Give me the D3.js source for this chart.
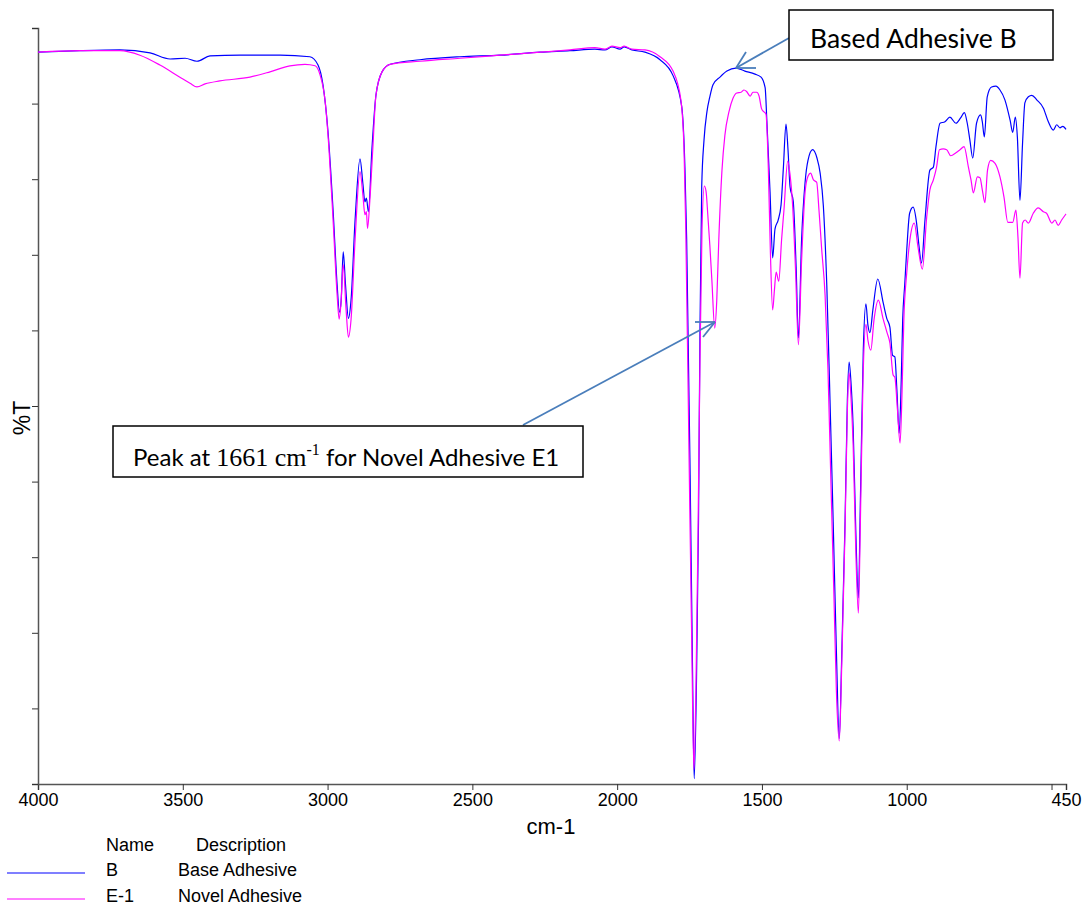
<!DOCTYPE html>
<html>
<head>
<meta charset="utf-8">
<script src="https://cdn.jsdelivr.net/npm/d3@7"></script>
<style>
  body { margin: 0; background: #fff; }
  svg { font-family: "Liberation Sans", Arial, sans-serif; }
  .note { font-family: Lato, "Open Sans", sans-serif; }
  .serif { font-family: "Liberation Serif", "Times New Roman", serif; }
</style>
</head>
<body>
<svg id="chart" width="1083" height="906"></svg>
<script>
// Base adhesive B : wavenumber (cm-1) and %T
var wnB = [4000,3855,3717,3613,3544,3492,3451,3406,3302,3164,3061,3033,3016,2999,2981,2967,2959,2953,2946,2938,
  2928,2919,2905,2888,2878,2871,2866,2859,2847,2833,2812,2784,2681,2543,2405,2266,2163,2077,2042,2018,
  1990,1976,1949,1904,1852,1807,1777,1766,1760,1748,1740,1734,1726,1719,1714,1708,1700,1690,1680,1669,
  1645,1621,1590,1559,1524,1503,1489,1483,1472,1463,1455,1444,1434,1426,1417,1410,1403,1392,1382,1374,
  1363,1351,1341,1325,1310,1299,1288,1276,1265,1254,1243,1233,1224,1213,1205,1199,1193,1185,1176,1167,
  1160,1150,1141,1134,1127,1117,1100,1081,1069,1058,1049,1041,1034,1026,1019,1014,1007,1000,990,978,
  966,958,949,937,920,908,899,885,868,851,830,814,801,791,782,772,759,745,739,732,
  722,707,692,678,661,643,634,625,618,609,600,592,580,568,551,528,511,494,482,471,461,450];
var tB = [96.8,97.0,97.1,96.7,95.9,96.0,95.6,96.3,96.4,96.4,96.2,95.1,92.5,86.5,75.9,66.0,62.4,64.0,70.4,66.0,
  61.6,64.0,74.6,82.7,79.4,77.0,77.5,75.7,83.9,91.1,94.2,95.2,95.8,96.2,96.4,96.8,97.0,97.2,97.1,97.5,
  97.2,97.5,97.1,96.8,95.8,93.7,89.6,81.5,72.1,40.9,16.0,0.7,13.8,34.9,60.1,79.0,85.2,88.9,90.9,92.5,
  93.5,94.3,94.7,94.3,93.9,93.5,92.1,87.7,78.3,69.6,73.4,74.6,76.6,81.5,87.3,83.9,79.0,77.1,68.4,59.0,
  72.1,79.6,82.5,83.9,82.8,80.8,76.5,65.9,50.8,34.7,17.7,6.0,17.7,34.7,50.8,55.8,53.4,47.1,33.6,24.6,
  37.6,57.4,63.5,60.7,59.7,62.7,66.8,63.6,61.6,60.4,56.7,56.5,52.1,46.4,53.4,61.4,66.0,70.6,75.5,76.3,
  74.2,71.3,68.9,74.6,81.2,81.6,84.3,87.4,87.6,88.2,87.4,88.1,88.8,87.4,85.2,82.8,87.4,88.5,87.6,85.6,
  90.9,92.2,92.3,91.8,90.5,87.8,86.2,88.2,85.6,77.2,84.8,90.1,90.9,91.1,90.5,89.4,87.6,86.5,87.2,86.8,87.0,86.6];

// Novel adhesive E-1
var wnE = [4000,3855,3717,3648,3579,3510,3475,3451,3423,3372,3268,3199,3130,3078,3043,3026,3009,2995,2981,2967,
  2960,2954,2946,2936,2928,2919,2905,2888,2878,2871,2866,2862,2854,2844,2833,2812,2784,2681,2543,2405,
  2266,2163,2077,2042,2018,1990,1976,1949,1904,1852,1807,1780,1769,1763,1752,1742,1735,1728,1721,1714,
  1707,1699,1693,1687,1680,1673,1663,1656,1649,1638,1628,1614,1600,1587,1572,1562,1553,1541,1531,1518,
  1510,1501,1493,1486,1478,1471,1463,1457,1451,1442,1432,1424,1411,1403,1394,1384,1374,1363,1351,1341,
  1332,1322,1311,1303,1294,1282,1272,1262,1251,1243,1233,1224,1213,1205,1199,1193,1185,1176,1167,1160,
  1151,1141,1134,1124,1113,1098,1082,1068,1058,1047,1041,1032,1023,1016,1010,1000,989,974,961,946,
  931,920,908,897,887,874,862,848,830,816,802,787,778,770,756,747,739,730,721,710,
  695,678,664,651,634,623,616,609,600,591,580,563,546,528,517,499,488,477,465,450];
var tE = [96.8,97.0,97.0,96.4,95.1,93.5,92.7,92.2,92.6,93.0,93.5,94.2,95.0,95.2,95.0,93.8,90.5,83.9,74.6,64.7,
  61.5,63.4,68.7,62.7,59.1,61.4,72.0,81.0,77.9,75.3,75.7,73.5,77.2,83.9,91.1,94.2,95.2,95.6,96.0,96.4,
  96.8,97.1,97.4,97.2,97.6,97.4,97.6,97.2,97.1,96.2,94.3,90.5,83.9,73.3,44.2,17.7,1.9,12.4,32.3,56.1,
  73.3,79.1,78.4,75.3,71.3,66.7,60.3,64.0,72.0,81.2,85.8,88.9,90.7,91.4,91.5,91.8,91.6,91.0,91.5,91.5,
  91.0,89.3,88.9,88.6,81.5,70.6,62.7,65.3,67.7,66.5,72.1,75.9,82.4,80.6,76.5,68.0,58.1,69.3,78.3,80.4,
  80.8,79.9,79.6,75.9,70.9,64.7,54.8,40.2,24.3,12.4,5.7,16.4,33.6,49.5,54.4,51.5,44.8,31.0,22.6,34.9,
  53.4,60.8,58.7,57.4,61.4,64.0,61.6,59.7,58.3,54.1,53.8,49.5,45.1,52.1,61.4,67.6,72.0,74.2,71.0,68.1,
  75.0,78.6,79.9,81.6,83.9,84.0,83.9,83.1,83.5,83.9,84.3,81.6,79.9,78.2,80.3,80.2,78.6,76.9,81.2,82.5,
  82.1,80.3,77.6,74.3,74.3,75.9,72.4,66.9,74.2,74.6,74.2,75.5,76.2,75.7,75.5,74.2,74.6,73.9,74.6,75.4];

var xTicks = [4000,3500,3000,2500,2000,1500,1000,500,450];
var xLabels = ["4000","3500","3000","2500","2000","1500","1000","","450"];
var legendNames = ["B","E-1"];
var legendDesc = ["Base Adhesive","Novel Adhesive"];
var colors = ["#0000ff","#ff00ff"];

var svg = d3.select("#chart");
// plot frame (px)
var pLeft = 38, pRight = 1066, pTop = 28, pBottom = 784;

var x = d3.scaleLinear().domain([4000,450]).range([pLeft,pRight]);
var y = d3.scaleLinear().domain([0,100]).range([pBottom,pTop]);

// Axes
var xAxis = svg.append("g")
   .attr("transform","translate(0,"+pBottom+")")
   .call(d3.axisBottom(x).tickValues(xTicks).tickSize(6).tickPadding(3)
     .tickFormat(function(d,i){ return xLabels[i]; }));
xAxis.selectAll("text").attr("font-size",18).attr("fill","#000").attr("font-family","Liberation Sans, Arial");
xAxis.select(".domain").attr("stroke","#555").attr("stroke-width",1.5);
xAxis.selectAll(".tick line").attr("stroke","#333");

var yAxis = svg.append("g")
   .attr("transform","translate("+pLeft+",0)")
   .call(d3.axisLeft(y).ticks(10).tickSize(6).tickFormat(""));
yAxis.select(".domain").attr("stroke","#555").attr("stroke-width",1.5);
yAxis.selectAll(".tick line").attr("stroke","#333");

// Axis titles
svg.append("text")
   .attr("x",551).attr("y",834)
   .attr("text-anchor","middle")
   .attr("font-size",22)
   .text("cm-1");
svg.append("text")
   .attr("transform","translate(30,418) rotate(-90)")
   .attr("text-anchor","middle")
   .attr("font-size",23)
   .text("%T");

// Spectra
var line = d3.line()
   .x(function(d){ return x(d[0]); })
   .y(function(d){ return y(d[1]); })
   .curve(d3.curveMonotoneX);

var seriesB = wnB.map(function(d,i){ return [d,tB[i]]; });
var seriesE = wnE.map(function(d,i){ return [d,tE[i]]; });

svg.append("path").datum(seriesB)
   .attr("d",line).attr("fill","none")
   .attr("stroke",colors[0]).attr("stroke-width",1.2);
svg.append("path").datum(seriesE)
   .attr("d",line).attr("fill","none")
   .attr("stroke",colors[1]).attr("stroke-width",1.2);

// Annotations
var arrowColor = "#4a7ebb";
function arrow(x1,y1,x2,y2,b1,b2) {
  svg.append("line").attr("x1",x1).attr("y1",y1).attr("x2",x2).attr("y2",y2)
     .attr("stroke",arrowColor).attr("stroke-width",1.8);
  [b1,b2].forEach(function(b){
    svg.append("line").attr("x1",x2).attr("y1",y2).attr("x2",b[0]).attr("y2",b[1])
       .attr("stroke",arrowColor).attr("stroke-width",1.8);
  });
}
arrow(789,38,736,68,[746,52],[756,68]);
arrow(523,425,715,322,[695,322],[703,337]);

svg.append("rect").attr("x",789).attr("y",10).attr("width",264).attr("height",50)
   .attr("fill","#fff").attr("stroke","#000").attr("stroke-width",1.5);
svg.append("text").attr("class","note")
   .attr("x",810).attr("y",48).attr("font-size",26.5)
   .text("Based Adhesive B");

svg.append("rect").attr("x",113).attr("y",426).attr("width",470).attr("height",51)
   .attr("fill","#fff").attr("stroke","#000").attr("stroke-width",1.5);
var note2 = svg.append("text").attr("class","note")
   .attr("x",133).attr("y",466).attr("font-size",24);
note2.append("tspan").text("Peak at ");
note2.append("tspan").attr("class","serif").attr("font-size",26).text("1661 cm");
note2.append("tspan").attr("class","serif").attr("font-size",16).attr("dy",-11).text("-1");
note2.append("tspan").attr("dy",11).text(" for Novel Adhesive E1");

// Legend
svg.append("text").attr("x",106).attr("y",851).attr("font-size",18).text("Name");
svg.append("text").attr("x",196).attr("y",851).attr("font-size",18).text("Description");
legendNames.forEach(function(n,i){
  var ly = 873 + i*26;
  svg.append("line").attr("x1",7).attr("x2",85).attr("y1",ly).attr("y2",ly)
     .attr("stroke",colors[i]).attr("stroke-width",1.2);
  svg.append("text").attr("x",106).attr("y",ly+3).attr("font-size",18).text(n);
  svg.append("text").attr("x",178).attr("y",ly+3).attr("font-size",18).text(legendDesc[i]);
});
</script>
</body>
</html>
